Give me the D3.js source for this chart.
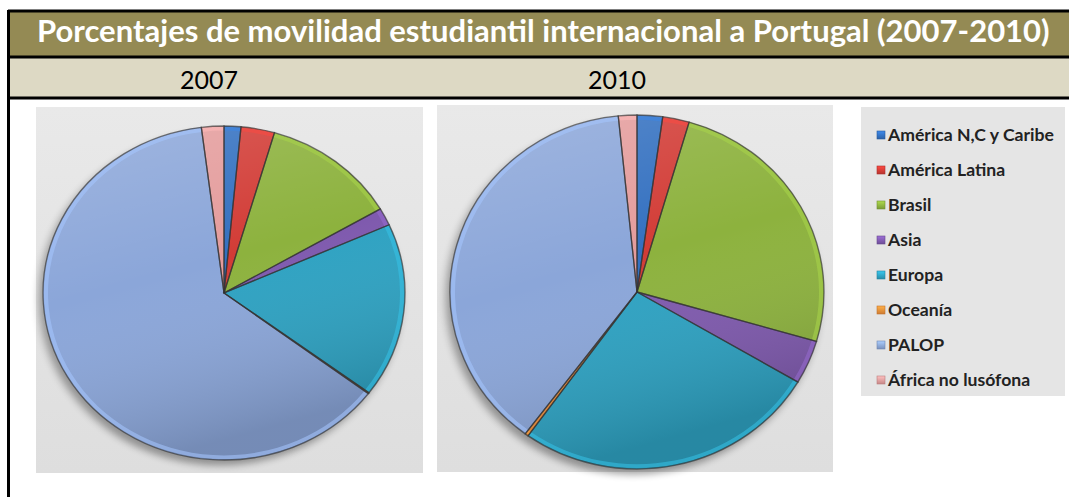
<!DOCTYPE html>
<html>
<head>
<meta charset="utf-8">
<script src="https://cdn.jsdelivr.net/npm/d3@7"></script>
<style>
  body { margin: 0; background: #fff; }
  svg { display: block; }
</style>
</head>
<body>
<svg></svg>
<script>

  var title = "Porcentajes de movilidad estudiantil internacional a Portugal (2007-2010)";
  var years = ["2007", "2010"];
  var categories = ["América N,C y Caribe", "América Latina", "Brasil", "Asia",
                    "Europa", "Oceanía", "PALOP", "África no lusófona"];
  // percentages (clockwise from 12 o'clock)
  var values2007 = [1.5, 3.0, 12.1, 1.7, 16.9, 0.1, 62.7, 2.0];
  var values2010 = [2.2, 2.3, 25.0, 4.0, 26.4, 0.3, 38.2, 1.6];
  var colors = ["#3370c0", "#d23c36", "#8db23e", "#7f5aae",
                "#2ea2c2", "#ee8e3a", "#8ba6d9", "#e49c9c"];

  var W = 1069, H = 497;
  var svg = d3.select("svg").attr("width", W).attr("height", H);
  var defs = svg.append("defs");

  // gradients
  var g = defs.append("linearGradient").attr("id", "panelGrad")
    .attr("x1", 0).attr("y1", 0).attr("x2", 0).attr("y2", 1);
  g.append("stop").attr("offset", "0%").attr("stop-color", "#e9e9e9");
  g.append("stop").attr("offset", "100%").attr("stop-color", "#dedede");

  var shade = defs.append("linearGradient").attr("id", "shade")
    .attr("x1", 0).attr("y1", 0).attr("x2", 0.3).attr("y2", 1);
  shade.append("stop").attr("offset", "0%").attr("stop-color", "#fff").attr("stop-opacity", 0.18);
  shade.append("stop").attr("offset", "50%").attr("stop-color", "#fff").attr("stop-opacity", 0);
  shade.append("stop").attr("offset", "100%").attr("stop-color", "#000").attr("stop-opacity", 0.16);

  defs.append("filter").attr("id", "blur")
    .attr("x", "-20%").attr("y", "-20%").attr("width", "140%").attr("height", "140%")
    .append("feGaussianBlur").attr("stdDeviation", 4);

  colors.forEach(function(c, i) {
    var lg = defs.append("linearGradient").attr("id", "sw" + i)
      .attr("x1", 0).attr("y1", 0).attr("x2", 0).attr("y2", 1);
    lg.append("stop").attr("offset", "0%").attr("stop-color", d3.color(c).brighter(0.6));
    lg.append("stop").attr("offset", "100%").attr("stop-color", d3.color(c).darker(0.4));
  });

  // header bars
  svg.append("rect").attr("x", 8).attr("y", 11).attr("width", W - 8).attr("height", 46)
    .attr("fill", "#948a54");
  svg.append("rect").attr("x", 8).attr("y", 57).attr("width", W - 8).attr("height", 41)
    .attr("fill", "#ddd9c4");

  var lines = [[8, 11, W, 11], [8, 57, W, 57], [8, 98, W, 98], [8.5, 10, 8.5, H]];
  svg.selectAll("line.border").data(lines).enter().append("line")
    .attr("class", "border")
    .attr("x1", function(d) { return d[0]; }).attr("y1", function(d) { return d[1]; })
    .attr("x2", function(d) { return d[2]; }).attr("y2", function(d) { return d[3]; })
    .attr("stroke", "#000").attr("stroke-width", 3);

  var t = svg.append("text").text(title)
    .attr("x", 37).attr("y", 42)
    .attr("fill", "#fff")
    .style("font-family", "Lato, 'Open Sans', sans-serif")
    .style("font-weight", "bold")
    .style("font-size", "28px");
  // fit the title to the width it has in the picture
  var tw = t.node().getComputedTextLength();
  t.style("font-size", (28 * 1013 / tw) + "px");

  var yearX = [209, 617];
  svg.selectAll("text.year").data(years).enter().append("text")
    .attr("class", "year")
    .attr("x", function(d, i) { return yearX[i]; })
    .attr("y", 89)
    .attr("text-anchor", "middle")
    .style("font-family", "Lato, 'Open Sans', sans-serif")
    .style("font-size", "25px")
    .attr("fill", "#000")
    .text(function(d) { return d; });

  // pies
  var pies = [
    { values: values2007, panel: [36, 107, 387, 366], cx: 224, cy: 293, rx: 181, ry: 167 },
    { values: values2010, panel: [437, 105, 396, 367], cx: 637, cy: 292, rx: 187, ry: 177 }
  ];

  var pie = d3.pie().sort(null).value(function(d) { return d; });

  pies.forEach(function(p, k) {
    svg.append("rect")
      .attr("x", p.panel[0]).attr("y", p.panel[1])
      .attr("width", p.panel[2]).attr("height", p.panel[3])
      .attr("fill", "url(#panelGrad)");

    var grp = svg.append("g")
      .attr("transform", "translate(" + p.cx + "," + p.cy + ") scale(1," + (p.ry / p.rx) + ")");

    var arc = d3.arc().innerRadius(0).outerRadius(p.rx);

    // soft shadow
    grp.append("circle").attr("cx", -4).attr("cy", 6).attr("r", p.rx)
      .attr("fill", "#000").attr("opacity", 0.35).attr("filter", "url(#blur)");

    var arcs = pie(p.values);

    grp.selectAll("path.slice").data(arcs).enter().append("path")
      .attr("class", "slice")
      .attr("d", arc)
      .attr("fill", function(d, i) { return colors[i]; });

    // overall light-to-dark shading
    grp.append("circle").attr("r", p.rx).attr("fill", "url(#shade)");

    // bevel: light rim inside each slice
    var rim = d3.arc().innerRadius(p.rx - 5).outerRadius(p.rx - 1);
    grp.selectAll("path.rim").data(arcs).enter().append("path")
      .attr("class", "rim")
      .attr("d", rim)
      .attr("fill", function(d, i) { return d3.color(colors[i]).brighter(0.5); })
      .attr("opacity", 0.55);

    grp.selectAll("path.edge").data(arcs).enter().append("path")
      .attr("class", "edge")
      .attr("d", arc)
      .attr("fill", "none")
      .attr("stroke", "#333")
      .attr("stroke-opacity", 0.65)
      .attr("stroke-width", 1.3)
      .attr("vector-effect", "non-scaling-stroke");
  });

  // legend
  svg.append("rect").attr("x", 861).attr("y", 107).attr("width", 204).attr("height", 289)
    .attr("fill", "#e5e5e5");

  var ly = d3.scalePoint().domain(categories).range([135, 380]);

  var item = svg.selectAll("g.leg").data(categories).enter().append("g")
    .attr("class", "leg")
    .attr("transform", function(d) { return "translate(877," + ly(d) + ")"; });

  item.append("rect").attr("x", 0).attr("y", -4).attr("width", 8).attr("height", 8)
    .attr("fill", function(d, i) { return "url(#sw" + i + ")"; })
    .attr("stroke", function(d, i) { return d3.color(colors[i]).darker(0.6); })
    .attr("stroke-width", 0.6);

  var lt = item.append("text")
    .attr("x", 11).attr("y", 5.5)
    .attr("fill", "#222")
    .style("font-family", "Lato, 'Open Sans', sans-serif")
    .style("font-weight", "bold")
    .style("font-size", "15px")
    .text(function(d) { return d; });

  // match the width of the first label
  var lw = lt.node().getComputedTextLength();
  lt.style("font-size", (15 * 166 / lw) + "px");

</script>
</body>
</html>
